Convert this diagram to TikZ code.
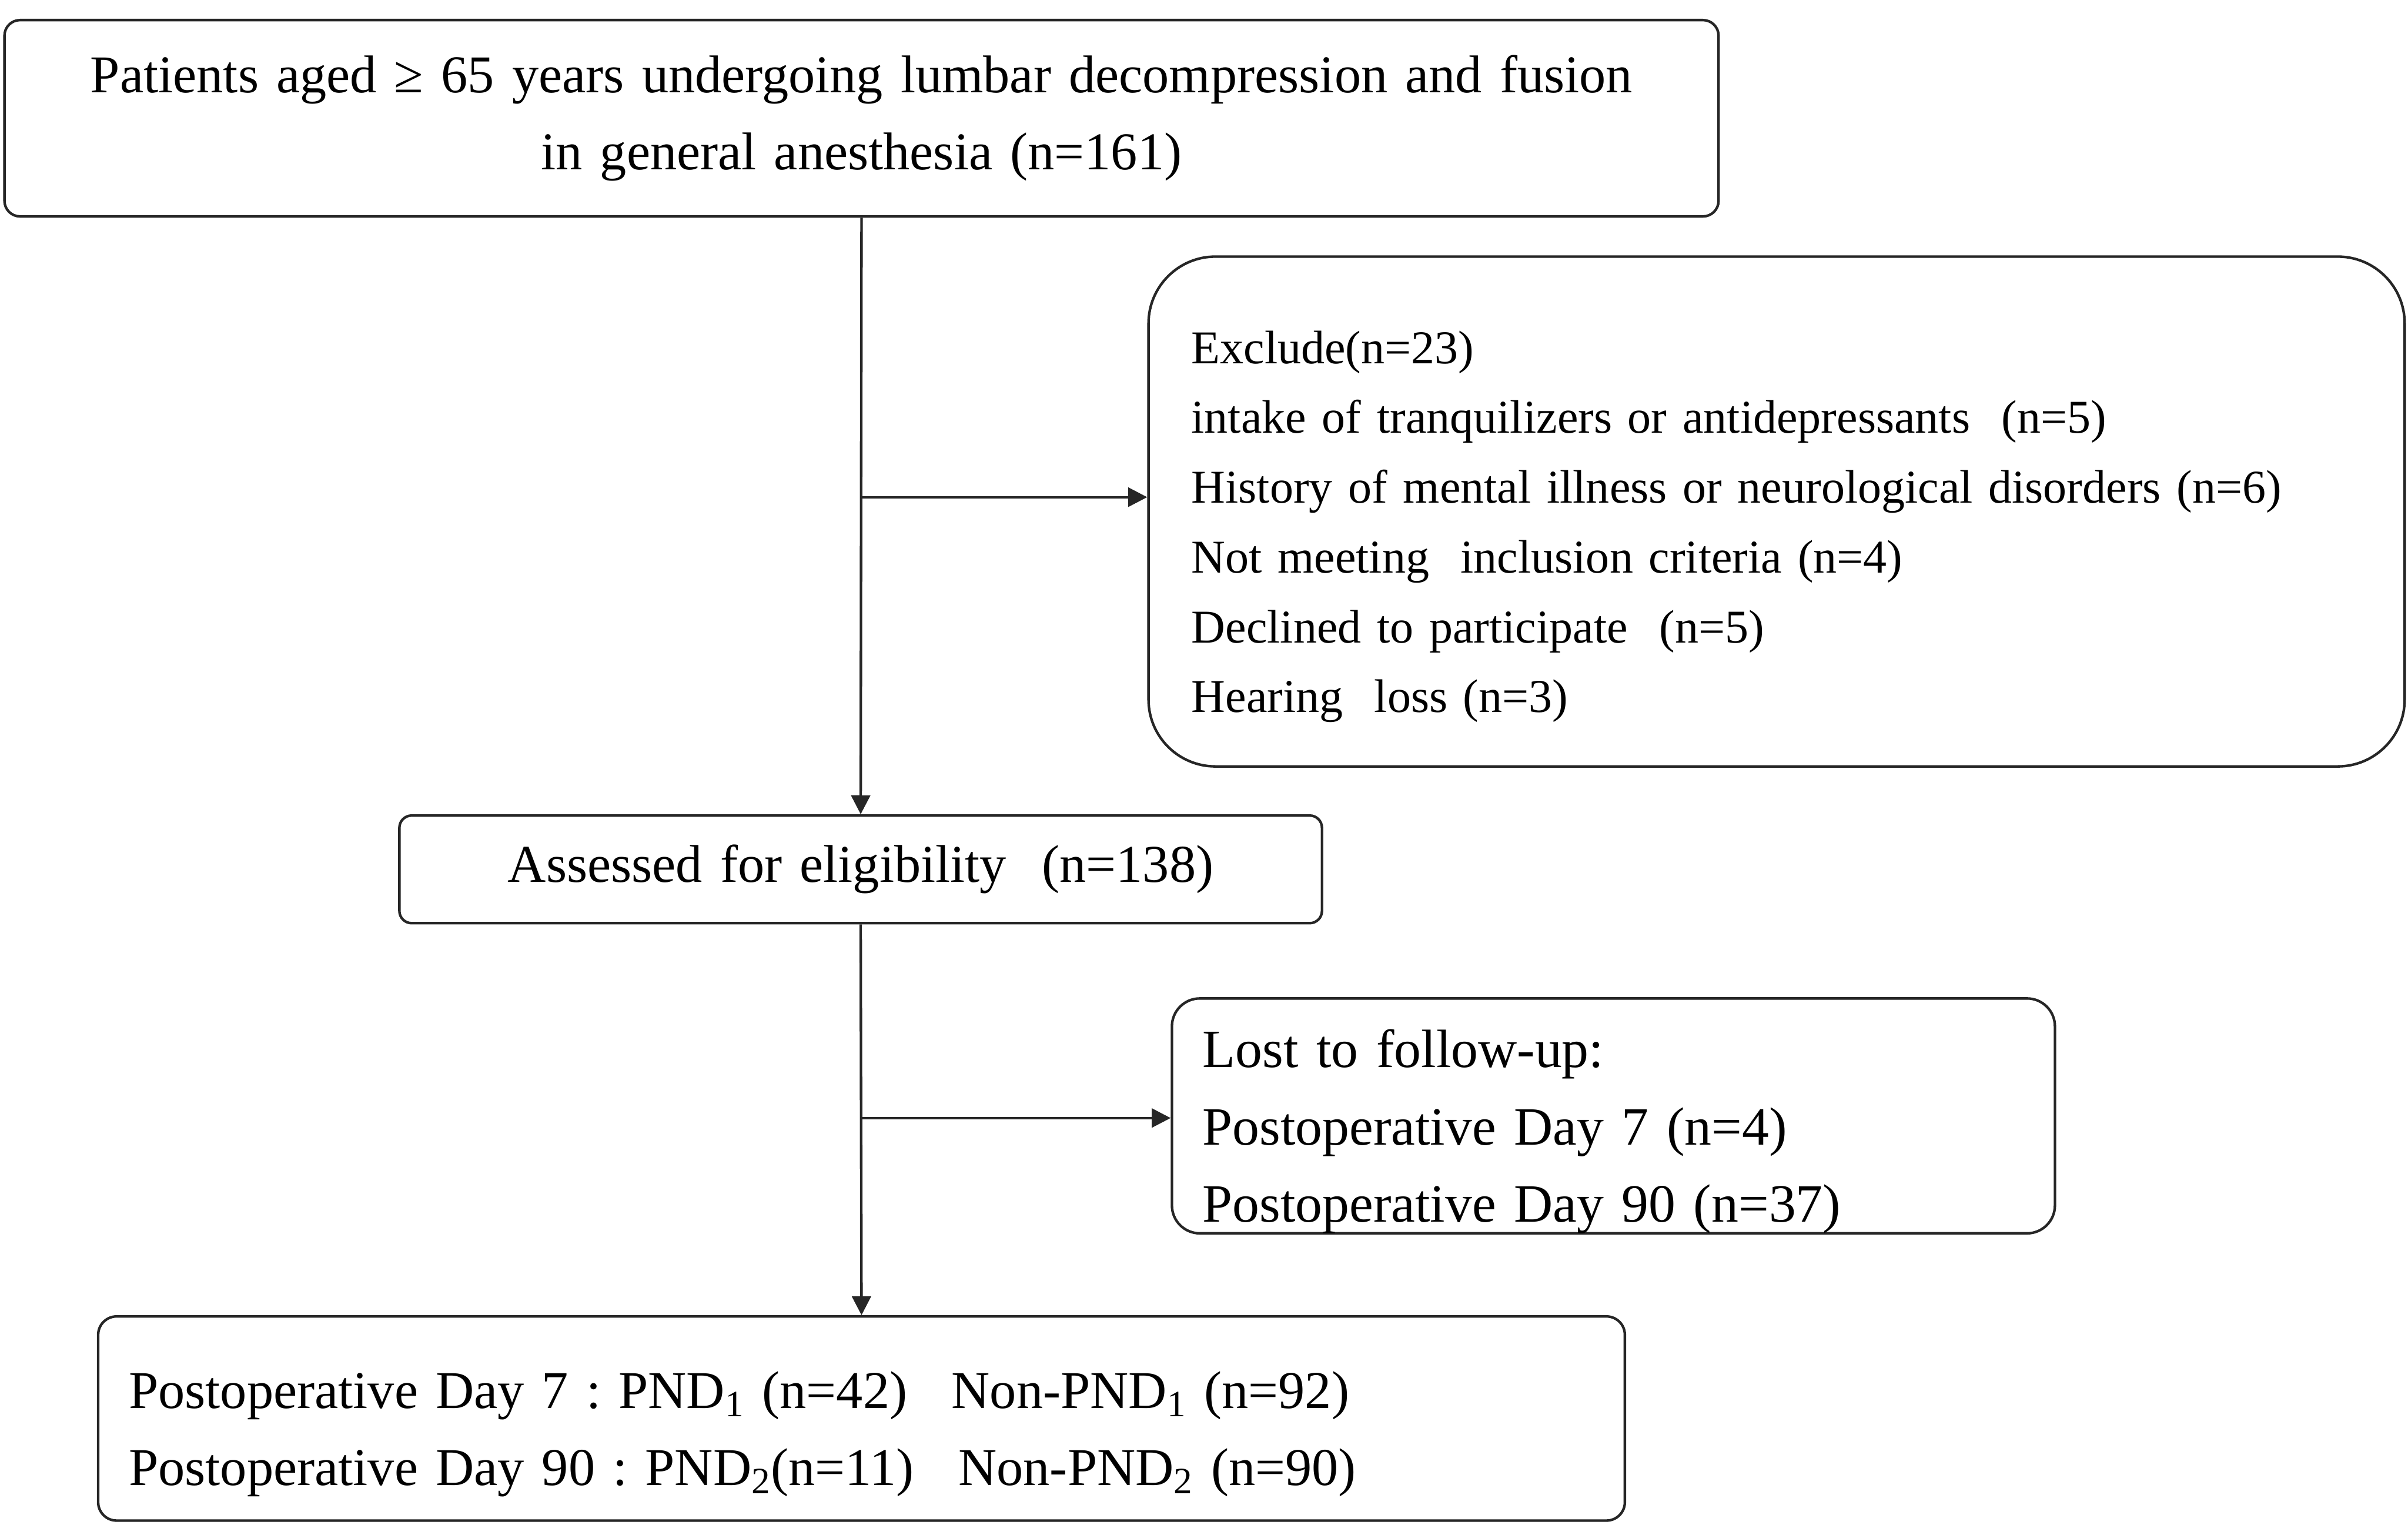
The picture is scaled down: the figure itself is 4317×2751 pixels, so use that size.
\documentclass[tikz,border=0pt]{standalone}
\usepackage{fontspec}
\setmainfont{Liberation Serif}
\usepackage{tikz}
\usetikzlibrary{positioning,arrows.meta,calc}
\frenchspacing
\newcommand{\topgap}[1]{\rule{0pt}{#1}}

\begin{document}
\begin{tikzpicture}[
  x=0.1mm, y=-0.1mm,
  font=\fontsize{27.1}{39.3}\selectfont,
  box/.style={draw=black!85, line width=1.3pt, inner sep=0pt, inner xsep=5.5mm},
  cbox/.style={box, align=center},
  lbox/.style={box, align=left},
  arr/.style={-{Triangle[length=3.4mm, width=3.4mm]}, black!85, line width=1.3pt},
]
\useasboundingbox (0,0) rectangle (4317,2751);
% ---- main column ----
\node[cbox, rounded corners=2.8mm, text width=296.3mm, minimum height=35.2mm] (top) at (1544.5,212)
  {Patients aged ≥ 65 years undergoing lumbar decompression and fusion\\ in general anesthesia (n=161)};
\node[cbox, rounded corners=2.2mm, text width=154.4mm, minimum height=19.3mm] (assess) at (1543,1558.5)
  {Assessed for eligibility\ \ (n=138)};
\node[lbox, rounded corners=3.3mm, text width=262.7mm, minimum height=36.6mm] (final) at (1544.5,2543)
  {\topgap{12.3mm}Postoperative Day 7 : PND\textsubscript{1} (n=42)\hspace{0.5em} Non-PND\textsubscript{1} (n=92)\\
   Postoperative Day 90 : PND\textsubscript{2}(n=11)\hspace{0.5em} Non-PND\textsubscript{2} (n=90)};
% ---- side boxes ----
\node[lbox, rounded corners=12mm, inner xsep=7.7mm, text width=209.8mm, minimum height=91.4mm,
  font=\fontsize{24}{35.6}\selectfont] (excl) at (3185,917)
  {\topgap{11.3mm}Exclude(n=23)\\
   intake of tranquilizers or antidepressants\ \ (n=5)\\
   History of mental illness or neurological disorders\ (n=6)\\
   Not meeting\ \ inclusion criteria\ (n=4)\\
   Declined\ to participate\ \ (n=5)\\
   Hearing\ \ loss (n=3)};
\node[lbox, rounded corners=5mm, text width=147.3mm, minimum height=42.1mm,
  font=\fontsize{27.5}{39.3}\selectfont] (lost) at (2892.5,2000.5)
  {\topgap{12.4mm}Lost to follow-up:\\ Postoperative Day 7 (n=4)\\ Postoperative Day 90 (n=37)};
% ---- arrows ----
\coordinate (brA) at ($(top.south)+(0,501)$);
\coordinate (brB) at ($(assess.south)+(0,347)$);
\draw[arr] (top.south) -- (assess.north);
\draw[arr] (brA) -- (brA -| excl.west);
\draw[arr] (assess.south) -- (final.north);
\draw[arr] (brB) -- (brB -| lost.west);
\end{tikzpicture}
\end{document}
